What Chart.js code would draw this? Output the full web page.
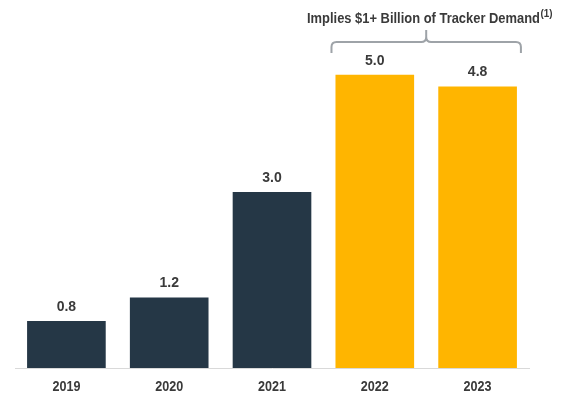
<!DOCTYPE html>
<html><head><meta charset="utf-8">
<script src="https://cdn.jsdelivr.net/npm/chart.js@4/dist/chart.umd.min.js"></script>
<style>html,body{margin:0;padding:0;background:#fff}#wrap{width:571px;height:396px}</style>
</head><body><div id="wrap"><canvas id="c" width="571" height="396"></canvas></div>
<script>
const categories = ['2019','2020','2021','2022','2023'];
const values = [0.8, 1.2, 3.0, 5.0, 4.8];
const valueLabels = ['0.8','1.2','3.0','5.0','4.8'];
const barColors = ['#253746','#253746','#253746','#FFB500','#FFB500'];
const bracketText = 'Implies $1+ Billion of Tracker Demand';
const bracketSup = '(1)';
const bracketFrom = 3, bracketTo = 4;

const FONT = '"Liberation Sans", Arial, sans-serif';
const TXT = '#3a3a3a';

const overlay = {
  id: 'overlay',
  afterDatasetsDraw(chart) {
    const ctx = chart.ctx;
    const meta = chart.getDatasetMeta(0);
    const xs = chart.scales.x;
    ctx.save();
    ctx.fillStyle = TXT;
    ctx.textAlign = 'center';
    ctx.textBaseline = 'middle';
    ctx.font = 'bold 14px ' + FONT;
    meta.data.forEach((bar, i) => {
      ctx.fillText(valueLabels[i], bar.x, bar.y - 14);
    });
    // category labels (condensed)
    ctx.font = 'bold 15px ' + FONT;
    categories.forEach((c, i) => {
      const x = xs.getPixelForValue(i);
      ctx.fillText(c, x, chart.chartArea.bottom + 19, 28);
    });
    // bracket
    const b0 = meta.data[bracketFrom], b1 = meta.data[bracketTo];
    const x0 = b0.x - b0.width/2 - 4, x1 = b1.x + b1.width/2 + 4;
    const xm = (x0 + x1) / 2;
    const yl = 42, yb = 53, yt = 30, r = 5;
    ctx.strokeStyle = '#9ea3a8';
    ctx.lineWidth = 2;
    ctx.beginPath();
    ctx.moveTo(x0, yb);
    ctx.lineTo(x0, yl + r);
    ctx.quadraticCurveTo(x0, yl, x0 + r, yl);
    ctx.lineTo(xm - r, yl);
    ctx.quadraticCurveTo(xm, yl, xm, yl - r);
    ctx.lineTo(xm, yt);
    ctx.moveTo(xm, yl - r);
    ctx.quadraticCurveTo(xm, yl, xm + r, yl);
    ctx.lineTo(x1 - r, yl);
    ctx.quadraticCurveTo(x1, yl, x1, yl + r);
    ctx.lineTo(x1, yb);
    ctx.stroke();
    // title text (condensed)
    const w = 233, ws = 12;
    const tx = 307;
    ctx.textAlign = 'left';
    ctx.font = 'bold 15px ' + FONT;
    ctx.fillText(bracketText, tx, 18.5, w);
    ctx.font = 'bold 10px ' + FONT;
    ctx.fillText(bracketSup, tx + w + 0.5, 14, ws);
    ctx.restore();
  }
};

new Chart(document.getElementById('c'), {
  type: 'bar',
  data: {
    labels: categories,
    datasets: [{ data: values, backgroundColor: barColors, borderWidth: 0,
      categoryPercentage: 0.765, barPercentage: 1.0 }]
  },
  options: {
    responsive: false,
    animation: false,
    layout: { padding: { left: 15, right: 42, top: 16, bottom: 28 } },
    plugins: { legend: { display: false }, tooltip: { enabled: false } },
    scales: {
      y: { display: false, min: 0, max: 6 },
      x: {
        grid: { display: false, drawTicks: false },
        border: { display: true, color: '#d9d9d9', width: 1 },
        ticks: { display: false }
      }
    }
  },
  plugins: [overlay]
});
</script></body></html>
